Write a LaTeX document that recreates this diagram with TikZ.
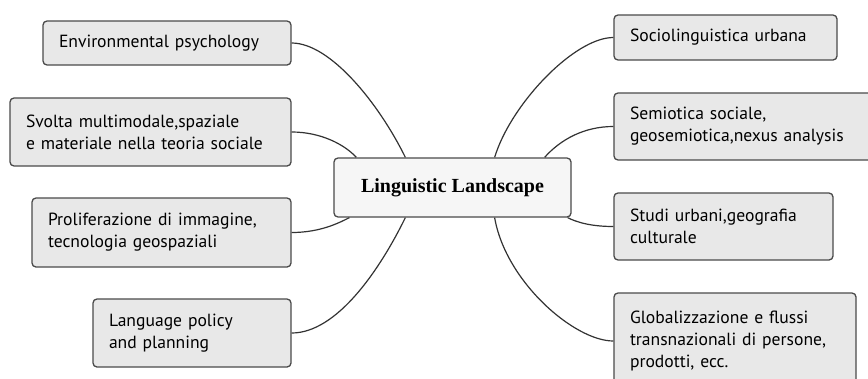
\documentclass[tikz,border=0pt]{standalone}
\usepackage{fontspec}
\setmainfont{Liberation Serif}
\newfontfamily\boxfont{PT Sans}
\definecolor{boxgray}{HTML}{E8E8E8}
\definecolor{rootgray}{HTML}{F6F6F6}
\definecolor{edgegray}{HTML}{4A4A4A}
\tikzset{
  topic/.style={draw=edgegray,fill=boxgray,line width=1.3pt,rounded corners=4pt,
    font=\boxfont\fontsize{17.6}{22}\selectfont,align=left,inner xsep=16pt,inner ysep=0pt,
    text width=#1-32pt,minimum width=#1},
  root/.style={draw=edgegray,fill=rootgray,line width=1.3pt,rounded corners=4pt,
    font=\bfseries\fontsize{20}{24}\selectfont,minimum width=237pt,minimum height=59pt},
  branch/.style={draw=black!80,line width=1.2pt}
}
\begin{document}
\begin{tikzpicture}[x=1pt,y=-1pt]
\clip (0,0) rectangle (868,378);
\fill[white] (0,0) rectangle (868,378);
\node[root] (ll) at (452.5,187.5) {Linguistic Landscape};
\node[topic=248pt,minimum height=44pt] (env) at (167,43) {Environmental psychology};
\node[topic=281pt,minimum height=68pt] (svolta) at (150.5,132) {Svolta multimodale,spaziale\\e materiale nella teoria sociale};
\node[topic=259pt,minimum height=69pt] (prolif) at (161.5,232.5) {Proliferazione di immagine,\\tecnologia geospaziali};
\node[topic=198pt,minimum height=68pt] (policy) at (192,333) {Language policy\\and planning};
\node[topic=223pt,minimum height=45pt] (socio) at (725.5,37.5) {Sociolinguistica urbana};
\node[topic=264pt,minimum height=67pt] (semio) at (746,126.5) {Semiotica sociale,\\geosemiotica,nexus analysis};
\node[topic=219pt,minimum height=67pt] (urbani) at (723.5,226.5) {Studi urbani,geografia\\culturale};
\node[topic=242pt,minimum height=96pt] (glob) at (735,341) {Globalizzazione e flussi\\transnazionali di persone,\\prodotti, ecc.};
\draw[branch] (env.east) .. controls +(39,0) and +(-26,-53) .. ([xshift=72pt]ll.north west);
\draw[branch] (svolta.east) .. controls +(29,0) and +(-12,-13) .. ([xshift=23pt]ll.north west);
\draw[branch] (prolif.east) .. controls +(29,0) and +(-10,5) .. ([xshift=16pt]ll.south west);
\draw[branch] (policy.east) .. controls +(45,0) and +(-26,53) .. ([xshift=72pt]ll.south west);
\draw[branch] (socio.west) .. controls +(-39,0) and +(16,-53) .. ([xshift=-77pt]ll.north east);
\draw[branch] (semio.west) .. controls +(-29,0) and +(16,-18) .. ([xshift=-27pt]ll.north east);
\draw[branch] (urbani.west) .. controls +(-24,0) and +(8,4) .. ([xshift=-4pt]ll.south east);
\draw[branch] (glob.west) .. controls +(-39,0) and +(11,64) .. ([xshift=-77pt]ll.south east);
\end{tikzpicture}
\end{document}
